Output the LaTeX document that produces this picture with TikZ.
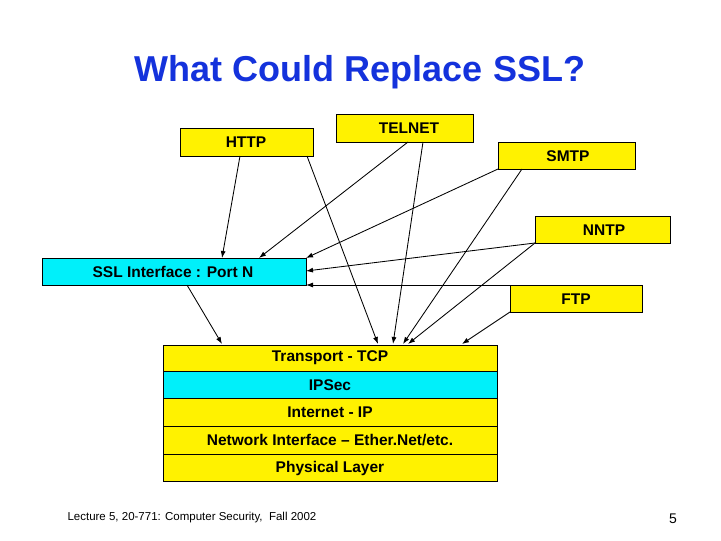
\documentclass[tikz,border=0pt]{standalone}
\usepackage{fontspec}
\setmainfont{Liberation Sans}
\usetikzlibrary{arrows.meta}
\definecolor{ttl}{RGB}{20,50,220}
\definecolor{cy}{RGB}{0,240,250}
\begin{document}
\begin{tikzpicture}[x=1pt,y=-1pt,
  box/.style={draw=black,line width=0.8pt,fill=yellow,inner sep=0pt},
  cbox/.style={box,fill=cy},
  arr/.style={-{Latex[length=7pt,width=5pt]},line width=0.85pt},
  lab/.style={font=\bfseries\fontsize{15.5}{17}\selectfont}]
\useasboundingbox[fill=white] (0,0) rectangle (721,541);
\node[font=\bfseries\fontsize{36}{41}\selectfont,text=ttl] (title) at (360,72) {What Could Replace SSL?};
\path[box] (180,128) rectangle (313,156); \node[lab] (http) at (246,142) {HTTP};
\path[box] (336,114) rectangle (473,142); \node[lab] (telnet) at (409,128) {TELNET};
\path[box] (498,142) rectangle (635,169); \node[lab] (smtp) at (568,156) {SMTP};
\path[box] (535,216) rectangle (670,243); \node[lab] (nntp) at (604,230) {NNTP};
\path[box] (510,285) rectangle (642,312); \node[lab] (ftp) at (576,299) {FTP};
\path[cbox] (42,258) rectangle (306,285); \node[lab] (ssl) at (173,272) {SSL Interface : Port N};
\path[box] (163,345) rectangle (497,371); \node[lab] (tcp) at (330,358) {Transport - TCP};
\path[cbox] (163,371) rectangle (497,398); \node[lab] (ipsec) at (330,385) {IPSec};
\path[box] (163,398) rectangle (497,426); \node[lab] (ip) at (330,412) {Internet - IP};
\path[box] (163,426) rectangle (497,454); \node[lab] (ni) at (330,440) {Network Interface -- Ether.Net/etc.};
\path[box] (163,454) rectangle (497,481); \node[lab] (phys) at (330,468) {Physical Layer};
\coordinate (h1) at (240,156); \coordinate (h2) at (307,156);
\coordinate (t1) at (408,142); \coordinate (t2) at (423,142);
\coordinate (s1) at (498,169); \coordinate (s2) at (522,169);
\coordinate (n1) at (535,243); \coordinate (f1) at (510,285); \coordinate (f2) at (510,312);
\coordinate (p0) at (187,285);
\coordinate (a1) at (222,258); \coordinate (a2) at (259,258); \coordinate (a3) at (306,258);
\coordinate (a4) at (306,271); \coordinate (a5) at (306,285);
\coordinate (b0) at (222,344); \coordinate (b1) at (378,344); \coordinate (b2) at (393,344);
\coordinate (b3) at (403,344); \coordinate (b4) at (408,344); \coordinate (b5) at (462,344);
\draw[arr] (h1)--(a1); \draw[arr] (h2)--(b1);
\draw[arr] (t1)--(a2); \draw[arr] (t2)--(b2);
\draw[arr] (s1)--(a3); \draw[arr] (s2)--(b3);
\draw[arr] (n1)--(a4); \draw[arr] (n1)--(b4);
\draw[arr] (f1)--(a5); \draw[arr] (f2)--(b5);
\draw[arr] (p0)--(b0);
\node[anchor=west,font=\fontsize{11.5}{13}\selectfont] (foot) at (64,518) {Lecture 5, 20-771: Computer Security,\ \ Fall 2002};
\node[font=\fontsize{14}{16}\selectfont] (num) at (673,519) {5};
\end{tikzpicture}
\end{document}
